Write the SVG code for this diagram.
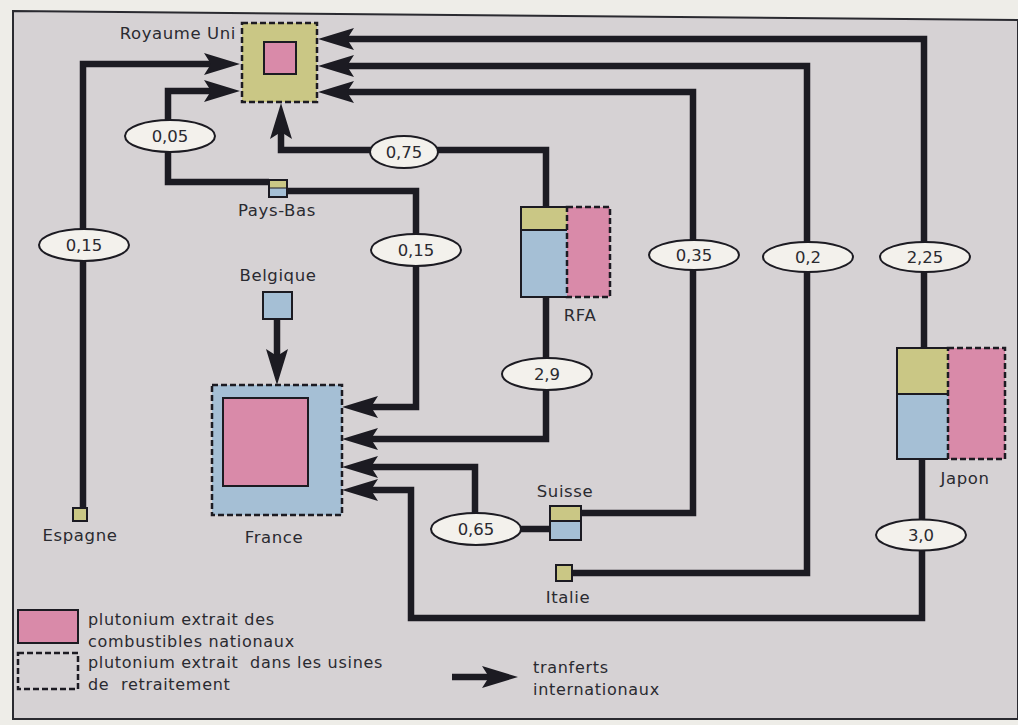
<svg xmlns="http://www.w3.org/2000/svg" width="1018" height="725" viewBox="0 0 1018 725">
<style>
text{font-family:"DejaVu Sans","Liberation Sans",sans-serif;fill:#2a2a30}
.lbl{font-size:16.5px;letter-spacing:0.6px}
.num{font-size:16.5px;text-anchor:middle}
.leg{font-size:16px;letter-spacing:0.7px;white-space:pre}
.c{fill:none;stroke:#1c1b22;stroke-width:6.5;stroke-linejoin:miter}
.el{fill:#f3f1ec;stroke:#1c1b22;stroke-width:2}
.y{fill:#cac785}
.p{fill:#d98aa9}
.b{fill:#a5bfd5}
.s{stroke:#1c1b22;stroke-width:2}
.d{fill:none;stroke:#1c1b22;stroke-width:2.5;stroke-dasharray:6 3}
</style>
<defs>
<marker id="ah" markerUnits="userSpaceOnUse" markerWidth="38" markerHeight="24" refX="16" refY="12" orient="auto">
<path d="M0,1 L36,12 L0,23 L7,12 Z" fill="#1c1b22"/>
</marker>
</defs>
<rect x="0" y="0" width="1018" height="725" fill="#eeede8"/>
<polygon points="13,11 1018,20 1018,719 13,719" fill="#d6d2d4" stroke="#2a2a30" stroke-width="2"/>

<g id="connectors">
<path class="c" d="M83,508 V64 H220" marker-end="url(#ah)" stroke-width="5.5"/>
<path class="c" d="M269,182 H168 V91 H220" marker-end="url(#ah)"/>
<path class="c" d="M287,191 H416 V407 H362" marker-end="url(#ah)"/>
<path class="c" d="M546,207 V150 H281 V123" marker-end="url(#ah)"/>
<path class="c" d="M546,297 V439 H362" marker-end="url(#ah)"/>
<path class="c" d="M550,529 H475 V467 H362" marker-end="url(#ah)"/>
<path class="c" d="M581,513 H693 V92 H338" marker-end="url(#ah)"/>
<path class="c" d="M572,573 H807 V66 H338" marker-end="url(#ah)"/>
<path class="c" d="M924,348 V39 H338" marker-end="url(#ah)"/>
<path class="c" d="M922,459 V618 H411 V490 H362" marker-end="url(#ah)"/>
<path class="c" d="M277,319 V365" marker-end="url(#ah)"/>
<g id="labels">
<ellipse class="el" cx="84" cy="245" rx="45" ry="16"/><text class="num" x="84" y="251">0,15</text>
<ellipse class="el" cx="170" cy="136" rx="45" ry="16"/><text class="num" x="170" y="142">0,05</text>
<ellipse class="el" cx="416" cy="250" rx="45" ry="16"/><text class="num" x="416" y="256">0,15</text>
<ellipse class="el" cx="404" cy="152" rx="34" ry="16"/><text class="num" x="404" y="158">0,75</text>
<ellipse class="el" cx="547" cy="374" rx="45" ry="16"/><text class="num" x="547" y="380">2,9</text>
<ellipse class="el" cx="476" cy="529" rx="45" ry="16"/><text class="num" x="476" y="535">0,65</text>
<ellipse class="el" cx="694" cy="255" rx="45" ry="15"/><text class="num" x="694" y="261">0,35</text>
<ellipse class="el" cx="808" cy="257" rx="45" ry="15"/><text class="num" x="808" y="263">0,2</text>
<ellipse class="el" cx="925" cy="257" rx="45" ry="15"/><text class="num" x="925" y="263">2,25</text>
<ellipse class="el" cx="921" cy="535" rx="45" ry="15.5"/><text class="num" x="921" y="541">3,0</text>
</g>
</g>

<g id="royaume-uni">
<rect class="y" x="242" y="23" width="75" height="79"/>
<rect class="d" x="242" y="23" width="75" height="79"/>
<rect class="p s" x="264" y="42" width="32" height="32"/>
<text class="lbl" x="236" y="39" text-anchor="end">Royaume Uni</text>
</g>

<g id="espagne">
<rect class="y s" x="73" y="508" width="14" height="13" stroke-width="1.5"/>
<text class="lbl" x="80" y="541" text-anchor="middle">Espagne</text>
</g>

<g id="pays-bas">
<rect class="y" x="269" y="180" width="18" height="8"/>
<rect class="b" x="269" y="188" width="18" height="9"/>
<rect fill="none" class="s" x="269" y="180" width="18" height="17" stroke-width="1.5"/>
<line x1="269" y1="188" x2="287" y2="188" stroke="#1c1b22" stroke-width="1"/>
<text class="lbl" x="277" y="216" text-anchor="middle">Pays-Bas</text>
</g>

<g id="belgique">
<rect class="b s" x="263" y="292" width="29" height="27"/>
<text class="lbl" x="278" y="281" text-anchor="middle">Belgique</text>
</g>

<g id="france">
<rect class="b" x="212" y="385" width="130" height="130"/>
<rect class="d" x="212" y="385" width="130" height="130"/>
<rect class="p s" x="223" y="398" width="85" height="88"/>
<text class="lbl" x="274" y="543" text-anchor="middle">France</text>
</g>

<g id="rfa">
<rect class="y" x="521" y="207" width="46" height="23"/>
<rect class="b" x="521" y="230" width="46" height="67"/>
<rect class="p" x="567" y="207" width="43" height="90"/>
<path d="M567,207 H521 V297 H567 M521,230 H567" fill="none" stroke="#1c1b22" stroke-width="2"/>
<path class="d" d="M567,207 H610 V297 H567 Z"/>
<text class="lbl" x="580" y="321" text-anchor="middle">RFA</text>
</g>

<g id="suisse">
<rect class="y" x="550" y="506" width="31" height="15"/>
<rect class="b" x="550" y="521" width="31" height="19"/>
<rect fill="none" class="s" x="550" y="506" width="31" height="34"/>
<line x1="550" y1="521" x2="581" y2="521" stroke="#1c1b22" stroke-width="2"/>
<text class="lbl" x="565" y="497" text-anchor="middle">Suisse</text>
</g>

<g id="italie">
<rect class="y s" x="556" y="565" width="16" height="16" stroke-width="1.5"/>
<text class="lbl" x="568" y="603" text-anchor="middle">Italie</text>
</g>

<g id="japon">
<rect class="y" x="897" y="348" width="51" height="46"/>
<rect class="b" x="897" y="394" width="51" height="65"/>
<rect class="p" x="948" y="348" width="57" height="111"/>
<path d="M948,348 H897 V459 H948 M897,394 H948" fill="none" stroke="#1c1b22" stroke-width="2"/>
<path class="d" d="M948,348 H1005 V459 H948 Z"/>
<text class="lbl" x="965" y="484" text-anchor="middle">Japon</text>
</g>

<g id="legend">
<rect class="p s" x="18" y="610" width="60" height="33"/>
<rect class="d" x="18" y="653" width="60" height="36"/>
<text class="leg" x="88" y="625">plutonium extrait des</text>
<text class="leg" x="88" y="647">combustibles nationaux</text>
<text class="leg" x="88" y="668">plutonium extrait  dans les usines</text>
<text class="leg" x="88" y="690">de  retraitement</text>
<path class="c" d="M452,677 H498" marker-end="url(#ah)"/>
<text class="leg" x="533" y="673">tranferts</text>
<text class="leg" x="533" y="695">internationaux</text>
</g>
</svg>
